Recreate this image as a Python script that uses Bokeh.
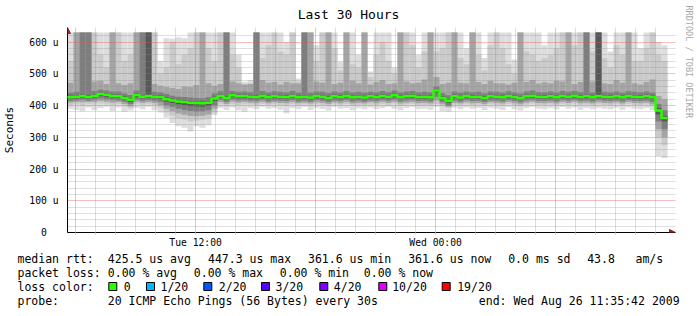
import math
import pandas as pd
from bokeh.plotting import figure
from bokeh.layouts import row, column
from bokeh.models import (FixedTicker, Arrow, NormalHead, DatetimeTickFormatter, Range1d)
from bokeh.core.properties import value
from bokeh.embed import file_html
from bokeh.resources import INLINE

# ---------------- data (microseconds) ----------------
graph_start = "2009-08-25 05:35:42"
graph_end = "2009-08-26 11:35:42"
bin_minutes = 18

rtt_median = [426, 428, 430, 427, 430, 436, 434, 430, 429, 424,
              418, 433, 428, 430, 428, 427, 420, 416, 413, 411,
              409, 408, 407, 409, 422, 430, 424, 432, 429, 430,
              428, 427, 431, 426, 429, 428, 427, 430, 426, 428,
              425, 430, 428, 424, 429, 427, 431, 426, 428, 425,
              429, 427, 430, 428, 432, 426, 429, 431, 427, 428,
              426, 447, 424, 414, 429, 425, 430, 427, 428, 424,
              429, 428, 426, 430, 427, 423, 429, 431, 428, 427,
              429, 426, 430, 428, 431, 427, 429, 426, 430, 428,
              427, 429, 426, 430, 428, 427, 429, 426, 384, 361]

rtt_min = [390, 386, 382, 394, 385, 392, 396, 383, 394, 380,
           384, 392, 388, 396, 385, 378, 362, 345, 335, 330,
           318, 335, 330, 338, 370, 392, 386, 394, 385, 380,
           392, 388, 395, 390, 392, 387, 376, 392, 388, 395,
           386, 393, 389, 384, 395, 390, 392, 385, 391, 388,
           394, 389, 392, 396, 390, 385, 392, 395, 388, 390,
           387, 395, 382, 380, 393, 388, 394, 390, 392, 386,
           393, 390, 386, 395, 388, 384, 392, 396, 390, 388,
           392, 388, 395, 390, 394, 387, 392, 388, 392, 390,
           388, 393, 387, 394, 390, 388, 392, 385, 240, 235]

rtt_p10 = [402, 404, 400, 405, 403, 406, 404, 401, 405, 398,
           392, 405, 402, 404, 400, 392, 378, 368, 360, 356,
           350, 352, 355, 358, 378, 404, 398, 405, 402, 404,
           403, 400, 405, 401, 404, 402, 400, 405, 401, 403,
           400, 404, 402, 398, 404, 401, 405, 399, 402, 400,
           403, 401, 405, 402, 406, 400, 403, 405, 401, 402,
           400, 405, 398, 392, 403, 400, 404, 401, 403, 399,
           404, 402, 400, 405, 401, 398, 403, 406, 402, 401,
           403, 400, 405, 402, 406, 401, 403, 400, 404, 402,
           401, 404, 400, 405, 402, 401, 403, 398, 300, 275]

rtt_p20 = [409, 411, 410, 411, 411, 414, 412, 409, 411, 405,
           398, 412, 408, 411, 408, 402, 390, 382, 375, 371,
           367, 366, 368, 372, 390, 411, 405, 412, 409, 411,
           409, 407, 411, 407, 410, 408, 407, 411, 407, 409,
           406, 410, 408, 405, 410, 407, 411, 406, 408, 406,
           410, 407, 411, 408, 412, 406, 409, 411, 407, 408,
           406, 416, 404, 396, 409, 406, 410, 407, 408, 405,
           410, 408, 406, 411, 407, 404, 409, 412, 408, 407,
           409, 406, 411, 408, 412, 407, 409, 406, 410, 408,
           407, 410, 406, 411, 408, 407, 409, 404, 325, 300]

rtt_p30 = [414, 416, 418, 415, 418, 422, 420, 417, 416, 412,
           405, 419, 415, 417, 415, 412, 402, 396, 390, 386,
           383, 381, 382, 385, 400, 417, 411, 419, 416, 417,
           415, 414, 418, 413, 416, 415, 414, 417, 413, 415,
           412, 417, 415, 411, 416, 414, 418, 413, 415, 412,
           416, 414, 417, 415, 419, 413, 416, 418, 414, 415,
           413, 428, 411, 400, 416, 412, 417, 414, 415, 411,
           416, 415, 413, 417, 414, 410, 416, 418, 415, 414,
           416, 413, 417, 415, 418, 414, 416, 413, 417, 415,
           414, 416, 413, 417, 415, 414, 416, 411, 350, 325]

rtt_p40 = [421, 423, 425, 422, 425, 430, 428, 425, 424, 419,
           412, 427, 423, 425, 423, 421, 413, 408, 404, 401,
           398, 397, 396, 399, 414, 425, 419, 427, 424, 425,
           423, 422, 426, 421, 424, 423, 422, 425, 421, 423,
           420, 425, 423, 419, 424, 422, 426, 421, 423, 420,
           424, 422, 425, 423, 427, 421, 424, 426, 422, 423,
           421, 440, 419, 408, 424, 420, 425, 422, 423, 419,
           424, 423, 421, 425, 422, 418, 424, 426, 423, 422,
           424, 421, 425, 423, 426, 422, 424, 421, 425, 423,
           422, 424, 421, 425, 423, 422, 424, 420, 372, 350]

rtt_p60 = [431, 433, 435, 432, 435, 441, 439, 435, 434, 429,
           423, 438, 433, 630, 433, 432, 425, 421, 418, 416,
           414, 413, 412, 414, 428, 435, 429, 437, 434, 435,
           433, 432, 436, 431, 434, 433, 432, 435, 431, 433,
           430, 435, 433, 429, 434, 432, 436, 431, 433, 430,
           434, 432, 435, 433, 437, 431, 434, 436, 432, 433,
           431, 452, 429, 419, 434, 430, 435, 432, 433, 429,
           434, 433, 431, 435, 432, 428, 434, 436, 433, 432,
           434, 431, 435, 433, 436, 432, 434, 431, 630, 433,
           432, 434, 431, 435, 433, 432, 434, 431, 392, 368]

rtt_p70 = [440, 443, 630, 630, 446, 450, 447, 444, 444, 438,
           433, 447, 630, 630, 443, 441, 436, 431, 428, 427,
           425, 424, 423, 426, 438, 445, 630, 446, 443, 444,
           442, 630, 446, 441, 445, 443, 441, 446, 440, 630,
           440, 444, 443, 439, 444, 441, 446, 441, 443, 440,
           443, 442, 446, 442, 447, 441, 444, 446, 441, 443,
           441, 460, 439, 432, 444, 440, 444, 442, 443, 438,
           444, 443, 440, 445, 441, 438, 444, 447, 442, 441,
           444, 441, 446, 443, 446, 442, 630, 441, 630, 443,
           441, 444, 440, 445, 443, 441, 444, 440, 405, 385]

rtt_p85 = [472, 630, 630, 630, 476, 478, 468, 630, 470, 465,
           470, 630, 630, 630, 468, 462, 458, 455, 452, 460,
           458, 465, 630, 470, 462, 468, 630, 476, 470, 466,
           468, 630, 480, 472, 474, 466, 474, 470, 470, 630,
           630, 475, 472, 630, 468, 472, 630, 478, 470, 630,
           466, 474, 480, 468, 470, 630, 476, 470, 472, 482,
           630, 490, 468, 472, 630, 472, 470, 630, 474, 468,
           478, 470, 470, 466, 472, 630, 474, 480, 469, 473,
           470, 478, 476, 630, 468, 474, 630, 476, 630, 470,
           468, 480, 472, 630, 470, 466, 474, 482, 430, 420]

rtt_p95 = [540, 630, 630, 630, 630, 560, 520, 630, 630, 540,
           560, 630, 630, 630, 630, 500, 520, 600, 530, 560,
           580, 630, 630, 580, 540, 630, 630, 560, 520, 468,
           470, 630, 550, 590, 630, 570, 560, 630, 476, 630,
           630, 540, 630, 630, 580, 510, 630, 530, 520, 630,
           490, 560, 600, 540, 500, 630, 630, 590, 520, 570,
           630, 570, 580, 630, 630, 550, 530, 630, 560, 510,
           590, 630, 580, 530, 500, 630, 570, 560, 540, 550,
           560, 580, 630, 630, 590, 630, 630, 570, 630, 550,
           520, 590, 560, 630, 540, 540, 580, 630, 560, 540]

rtt_max = [630, 630, 630, 630, 630, 630, 630, 630, 630, 630,
           630, 630, 630, 630, 630, 540, 612, 610, 615, 612,
           630, 630, 630, 630, 630, 630, 630, 630, 560, 475,
           480, 630, 630, 630, 630, 630, 600, 630, 485, 630,
           630, 590, 630, 630, 630, 538, 630, 630, 560, 630,
           507, 630, 630, 630, 520, 630, 630, 630, 560, 630,
           630, 630, 630, 630, 630, 630, 580, 630, 630, 550,
           630, 630, 630, 630, 545, 630, 630, 630, 630, 590,
           630, 630, 630, 630, 630, 630, 630, 630, 630, 630,
           570, 630, 630, 630, 630, 580, 630, 630, 600, 590]

y_ticks = [0, 100, 200, 300, 400, 500, 600]
y_tick_labels = ["0\u00a0\u00a0", "100 u", "200 u", "300 u", "400 u", "500 u", "600 u"]
x_label_times = ["2009-08-25 12:00", "2009-08-26 00:00"]

loss_labels = ["0", "1/20", "2/20", "3/20", "4/20", "10/20", "19/20"]
loss_colors = ["#26ff00", "#00b8ff", "#0059ff", "#5e00ff", "#7e00ff", "#dd00ff", "#ff0000"]

title_text = "Last 30 Hours"
credit_text = "RRDTOOL / TOBI OETIKER"
summary_rows = [
    [("median rtt:", 17), ("425.5 us avg", 107.3), ("447.3 us max", 207.5),
     ("361.6 us min", 307.5), ("361.6 us now", 407.7), ("0.0 ms sd", 507.7),
     ("43.8", 586.7), ("am/s", 635)],
    [("packet loss:", 17), ("0.00 % avg", 107.3), ("0.00 % max", 193.3),
     ("0.00 % min", 279.3), ("0.00 % now", 363.3)],
    [("loss color:", 17)],
    [("probe:", 17), ("20 ICMP Echo Pings (56 Bytes) every 30s", 107.3),
     ("end: Wed Aug 26 11:35:42 2009", 478.3)],
]
summary_row_y = [258, 272.5, 286, 300.3]

# ---------------- layout constants ----------------
MONO = "DejaVu Sans Mono"
W_LEFT, W_SIDE = 680, 17
H_TITLE, H_MAIN = 27, 224
H_LEG = 316 - H_TITLE - H_MAIN
LEG_TOP = H_TITLE + H_MAIN   # canvas y where the summary strip starts


def no_align(f):
    try:
        f.frame_align = False
    except Exception:
        pass


def blank(w, h, x0, x1, y0, y1):
    f = figure(width=w, height=h, x_range=Range1d(x0, x1), y_range=Range1d(y0, y1),
               x_axis_type=None, y_axis_type=None, output_backend="svg",
               toolbar_location=None, min_border=0)
    f.outline_line_color = None
    f.background_fill_color = "white"
    f.border_fill_color = "white"
    f.grid.visible = False
    no_align(f)
    return f


def txt(f, xs, ys, texts, size, color="black", align="left", angle=0.0):
    f.text(x=xs, y=ys, text=texts, text_font=value(MONO),
           text_font_size=value(size), text_color=value(color),
           text_align=value(align), text_baseline=value("middle"), angle=angle)


# ---------------- main plot ----------------
starts = pd.date_range(graph_start, periods=len(rtt_median), freq=f"{bin_minutes}min")
ends = starts + pd.Timedelta(minutes=bin_minutes)
x_lo = pd.Timestamp(graph_start)
x_hi = pd.Timestamp(graph_end) + pd.Timedelta(minutes=24)
y_hi = 645.75

p = figure(width=W_LEFT, height=H_MAIN, x_axis_type="datetime",
           x_range=Range1d(x_lo, x_hi), y_range=Range1d(0, y_hi),
           output_backend="svg", toolbar_location=None, title=None,
           min_border_left=67, min_border_right=5, min_border_top=0,
           min_border_bottom=19)
p.outline_line_color = None
p.background_fill_color = "white"
p.border_fill_color = "white"
no_align(p)

layers = [(rtt_min, rtt_max, "#dddddd"),
          (rtt_p10, rtt_p95, "#cacaca"),
          (rtt_p20, rtt_p85, "#a4a4a4"),
          (rtt_p30, rtt_p70, "#7e7e7e"),
          (rtt_p40, rtt_p60, "#585858")]
for lo, hi, col in layers:
    p.quad(left=starts, right=ends, bottom=lo, top=hi, fill_color=col, line_color=None)

step_x = list(starts) + [ends[-1]]
step_y = list(rtt_median) + [rtt_median[-1]]
med = p.step(step_x, step_y, mode="after", line_color=loss_colors[0], line_width=2.5)
med.level = "overlay"


def ms(t):
    return pd.Timestamp(t).value / 1e6


hours = pd.date_range("2009-08-25 06:00", "2009-08-26 11:00", freq="1h")
six_h = [ms(h) for h in hours if h.hour % 6 == 0]
one_h = [ms(h) for h in hours if h.hour % 6 != 0]
p.xgrid.ticker = FixedTicker(ticks=six_h, minor_ticks=one_h)
p.ygrid.ticker = FixedTicker(ticks=y_ticks,
                             minor_ticks=[v for v in range(20, 640, 20) if v % 100])
for g in (p.xgrid, p.ygrid):
    g.grid_line_color = "#e05a5a"
    g.grid_line_alpha = 0.38
    g.minor_grid_line_color = "#8c8c8c"
    g.minor_grid_line_alpha = 0.28
    g.level = "guide"

ya = p.yaxis[0]
ya.ticker = FixedTicker(ticks=y_ticks)
ya.major_label_overrides = dict(zip(y_ticks, y_tick_labels))
ya.major_tick_line_color = None
ya.minor_tick_line_color = None
ya.major_label_standoff = 3
ya.major_label_text_font = MONO
ya.major_label_text_font_size = "9.7px"
ya.major_label_text_color = "black"
ya.axis_label = "Seconds"
ya.axis_label_text_font = MONO
ya.axis_label_text_font_size = "11px"
ya.axis_label_text_font_style = "normal"
ya.axis_label_text_color = "black"
ya.axis_label_standoff = 10
ya.axis_line_color = "black"

xa = p.xaxis[0]
xa.ticker = FixedTicker(ticks=[ms(t) for t in x_label_times], minor_ticks=one_h + six_h)
xa.formatter = DatetimeTickFormatter(hours="%a %H:%M", hourmin="%a %H:%M",
                                     days="%a %H:%M", minutes="%a %H:%M")
xa.major_tick_in = 0
xa.major_tick_out = 2
xa.minor_tick_in = 0
xa.minor_tick_out = 2
xa.major_tick_line_color = "#eda3a3"
xa.minor_tick_line_color = "#d2d2d2"
xa.major_label_standoff = 2
xa.major_label_text_font = MONO
xa.major_label_text_font_size = "9.7px"
xa.major_label_text_color = "black"
xa.axis_line_color = "black"

ARROW = "#9b2020"
p.add_layout(Arrow(end=NormalHead(size=6, fill_color=ARROW, line_color=ARROW),
                   x_start=ms(graph_end), y_start=0, x_end=ms(x_hi), y_end=0,
                   line_alpha=0))
p.add_layout(Arrow(end=NormalHead(size=6, fill_color=ARROW, line_color=ARROW),
                   x_start=ms(graph_start), y_start=630, x_end=ms(graph_start), y_end=y_hi,
                   line_alpha=0))

# ---------------- title strip ----------------
top = blank(W_LEFT, H_TITLE, 0, W_LEFT, 0, H_TITLE)
txt(top, [348], [H_TITLE - 14], [title_text], "13px", align="center")

# ---------------- summary strip (y measured up from the strip bottom) ----------------
leg = blank(W_LEFT, H_LEG, 0, W_LEFT, 0, H_LEG)


def ly(cy):
    return H_LEG - (cy - LEG_TOP)


for cy, segs in zip(summary_row_y, summary_rows):
    txt(leg, [sx for _, sx in segs], [ly(cy)] * len(segs), [t for t, _ in segs], "11.5px")

sq_x = [108.3, 146, 203.3, 261, 319.3, 378.3, 441.7]
lb_x = [123.3, 160, 218.3, 275, 333.3, 391.7, 456.7]
leg.quad(left=sq_x, right=[x + 8 for x in sq_x], top=[ly(282)] * 7, bottom=[ly(290)] * 7,
         fill_color=loss_colors, line_color="black", line_width=1)
txt(leg, lb_x, [ly(286)] * 7, loss_labels, "11.5px")

# ---------------- right credit strip ----------------
side = blank(W_SIDE, 316, W_LEFT, W_LEFT + W_SIDE, 0, 316)
txt(side, [688], [316 - 5], [credit_text], "8.5px", color="#a8a8a8", angle=-math.pi / 2)

layout = row(column(top, p, leg, spacing=0), side, spacing=0)
open("out.html", "w").write(file_html(layout, INLINE))
